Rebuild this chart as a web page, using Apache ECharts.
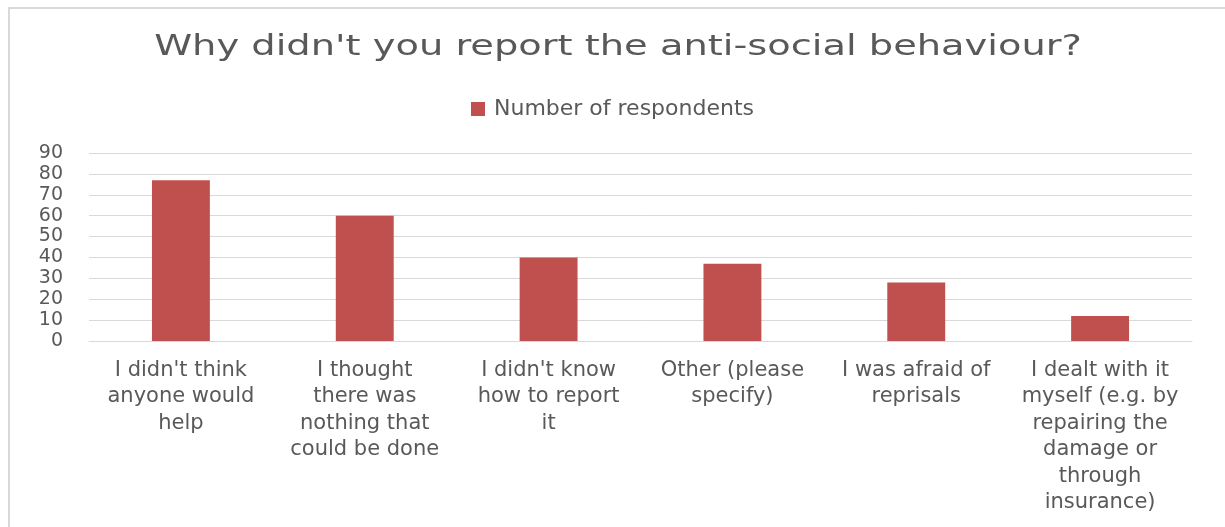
<!DOCTYPE html>
<html>
<head>
<meta charset="utf-8">
<script src="https://cdn.jsdelivr.net/npm/echarts@6/dist/echarts.min.js"></script>
<style>
    html, body { margin: 0; padding: 0; background: #fff; }
    #echart_canvas { width: 1225px; height: 527px; }
</style>
</head>
<body>
<div id="echart_canvas"></div>
<script>
let categories = [
    "I didn't think\nanyone would\nhelp",
    'I thought\nthere was\nnothing that\ncould be done',
    "I didn't know\nhow to report\nit",
    'Other (please\nspecify)',
    'I was afraid of\nreprisals',
    'I dealt with it\nmyself (e.g. by\nrepairing the\ndamage or\nthrough\ninsurance)'
];
let respondents = [77, 60, 40, 37, 28, 12];
let seriesName = 'Number of respondents';
let chartTitle = "Why didn't you report the anti-social behaviour?";

let textGrey = '#595959';
let fontName = 'DejaVu Sans';

let myChart = echarts.init(document.getElementById('echart_canvas'));
let option = {
    animation: false,
    textStyle: {fontFamily: fontName},
    graphic: [
        // frame of the chart box, only left and top edges are visible
        {type: 'rect', shape: {x: 9, y: 8, width: 1240, height: 540},
         style: {fill: 'none', stroke: '#d9d9d9', lineWidth: 2}},
        // title is drawn wide like the original
        {type: 'text', x: 618, y: 48, scaleX: 1.37,
         style: {text: chartTitle, fill: textGrey, font: '28px "DejaVu Sans"',
                 align: 'center', verticalAlign: 'middle'}}
    ],
    legend: {
        data: [seriesName],
        top: 93,
        left: 'center',
        itemWidth: 14,
        itemHeight: 14,
        itemGap: 8,
        icon: 'rect',
        textStyle: {color: textGrey, fontSize: 22, fontFamily: fontName, padding: [0, 0, 0, 4]}
    },
    grid: {left: 89, right: 33, top: 153, bottom: 186, containLabel: false},
    xAxis: {
        type: 'category',
        data: categories,
        axisLine: {show: true, lineStyle: {color: '#d9d9d9'}},
        axisTick: {show: false},
        axisLabel: {
            color: textGrey,
            fontSize: 21,
            lineHeight: 26.5,
            interval: 0,
            margin: 16,
            verticalAlign: 'top'
        }
    },
    yAxis: {
        type: 'value',
        min: 0,
        max: 90,
        interval: 10,
        axisLine: {show: false},
        axisTick: {show: false},
        splitLine: {lineStyle: {color: '#d9d9d9', width: 1}},
        axisLabel: {color: textGrey, fontSize: 19, margin: 26}
    },
    series: [{
        name: seriesName,
        type: 'bar',
        data: respondents,
        barWidth: '31.5%',
        itemStyle: {color: '#C0504D'}
    }]
};
myChart.setOption(option);
</script>
</body>
</html>
